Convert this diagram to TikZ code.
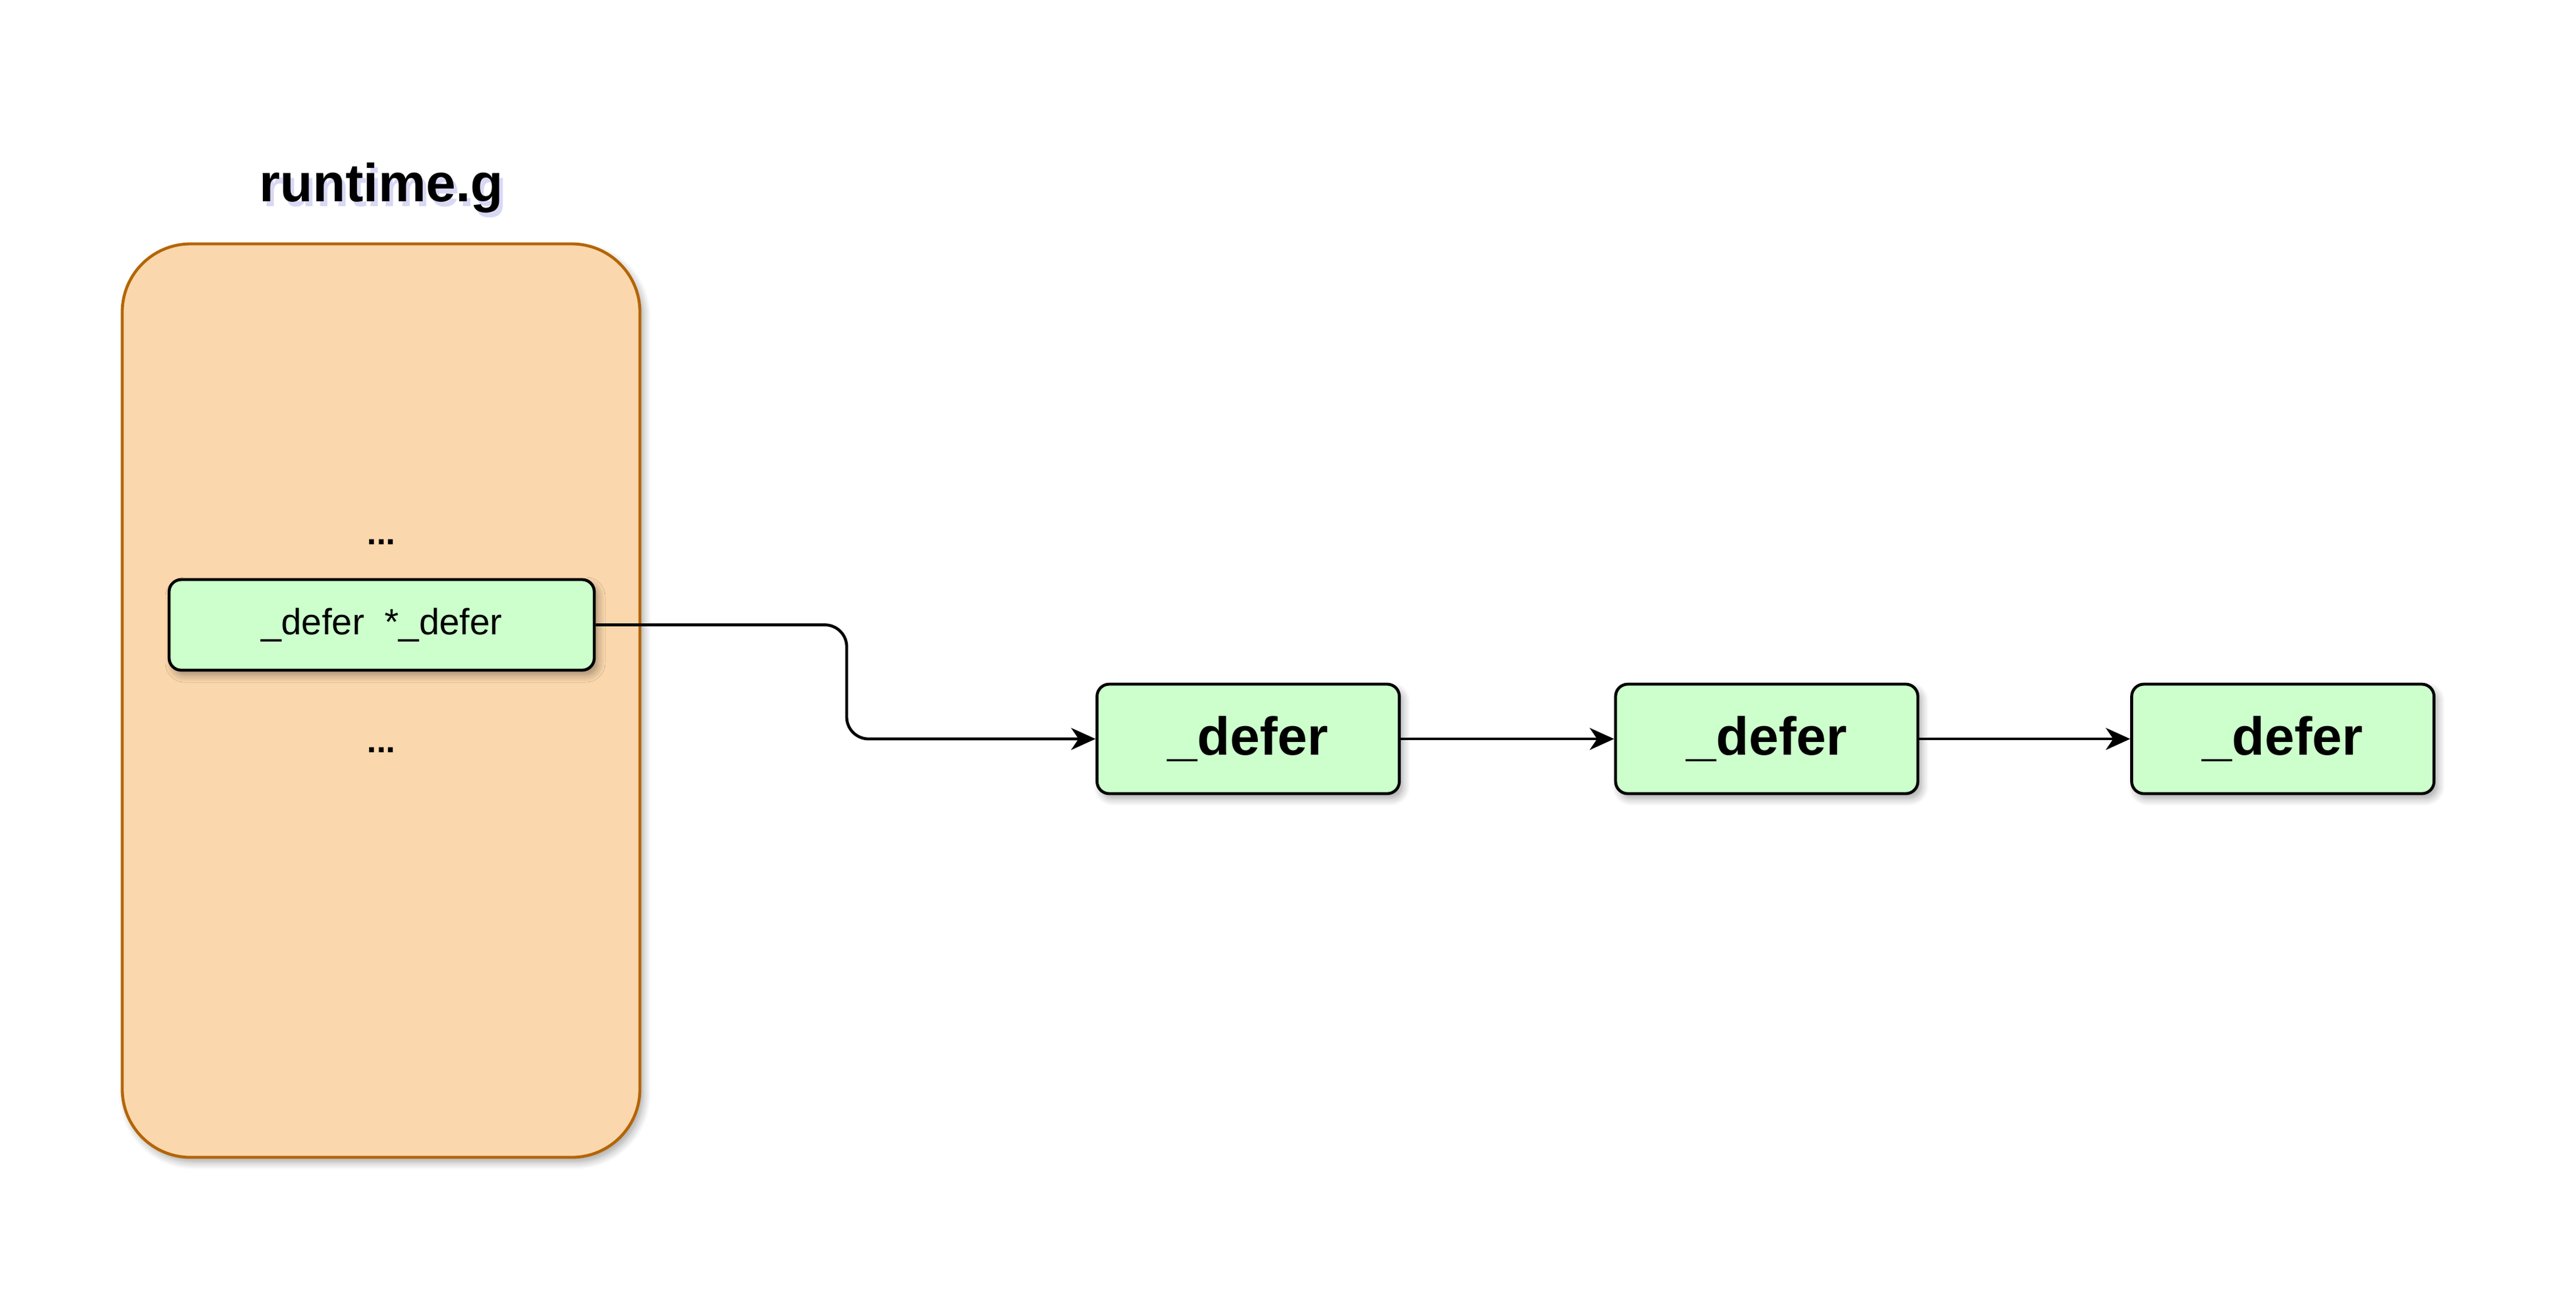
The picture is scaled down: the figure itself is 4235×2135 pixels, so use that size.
\documentclass[tikz,border=0pt]{standalone}
\usepackage{fontspec}
\setmainfont{Liberation Sans}
\usetikzlibrary{arrows.meta,shadows.blur}
\definecolor{gfill}{HTML}{CCFFCC}
\definecolor{ofill}{HTML}{FAD7AC}
\definecolor{ostroke}{HTML}{B46504}
\begin{document}
\begin{tikzpicture}[x=0.25pt,y=-0.25pt,
  shade/.style={blur shadow={shadow xshift=1.5pt, shadow yshift=-2pt, shadow blur radius=3pt, shadow blur steps=8, shadow opacity=35}},
  gbox/.style={shape=rectangle, draw=black, line width=1.2pt, fill=gfill, rounded corners=5pt, inner sep=0pt, shade},
  obox/.style={shape=rectangle, draw=ostroke, line width=1.2pt, fill=ofill, rounded corners=28pt, inner sep=0pt, shade},
  big/.style={font=\bfseries\fontsize{22pt}{26pt}\selectfont},
  small/.style={font=\fontsize{15pt}{18pt}\selectfont},
  conn/.style={draw=black, line width=1.2pt, -{Stealth[length=10pt, width=9pt, inset=3pt]}}]
\useasboundingbox (0,0) rectangle (4235,2135);
% runtime.g container
\node[obox, minimum width=212.75pt, minimum height=375.5pt] (g) at (626.5,1152) {};
\node[big, anchor=base, text=black!25!blue!30, opacity=0.5] (titleshade) at (633,339) {runtime.g};
\node[big, anchor=base] (title) at (627,331) {runtime.g};
\node[font=\bfseries\fontsize{14pt}{17pt}\selectfont, anchor=base] (dots1) at (627,895) {...};
\node[gbox, minimum width=174.75pt, minimum height=37.25pt, small] (ptr) at (627.5,1027.5) {\_defer\ \ *\_defer};
\node[font=\bfseries\fontsize{14pt}{17pt}\selectfont, anchor=base] (dots2) at (627,1237) {...};
% list of _defer
\node[gbox, minimum width=124.25pt, minimum height=45pt, big] (d1) at (2052,1215) {\_defer};
\node[gbox, minimum width=124.25pt, minimum height=45pt, big] (d2) at (2904.5,1215) {\_defer};
\node[gbox, minimum width=124.25pt, minimum height=45pt, big] (d3) at (3753,1215) {\_defer};
% connectors
\coordinate (jog) at (1392,1120);
\draw[conn, rounded corners=9pt] (ptr.east) -| (jog) |- (d1.west);
\draw[conn] (d1.east) -- (d2.west);
\draw[conn] (d2.east) -- (d3.west);
\end{tikzpicture}
\end{document}
